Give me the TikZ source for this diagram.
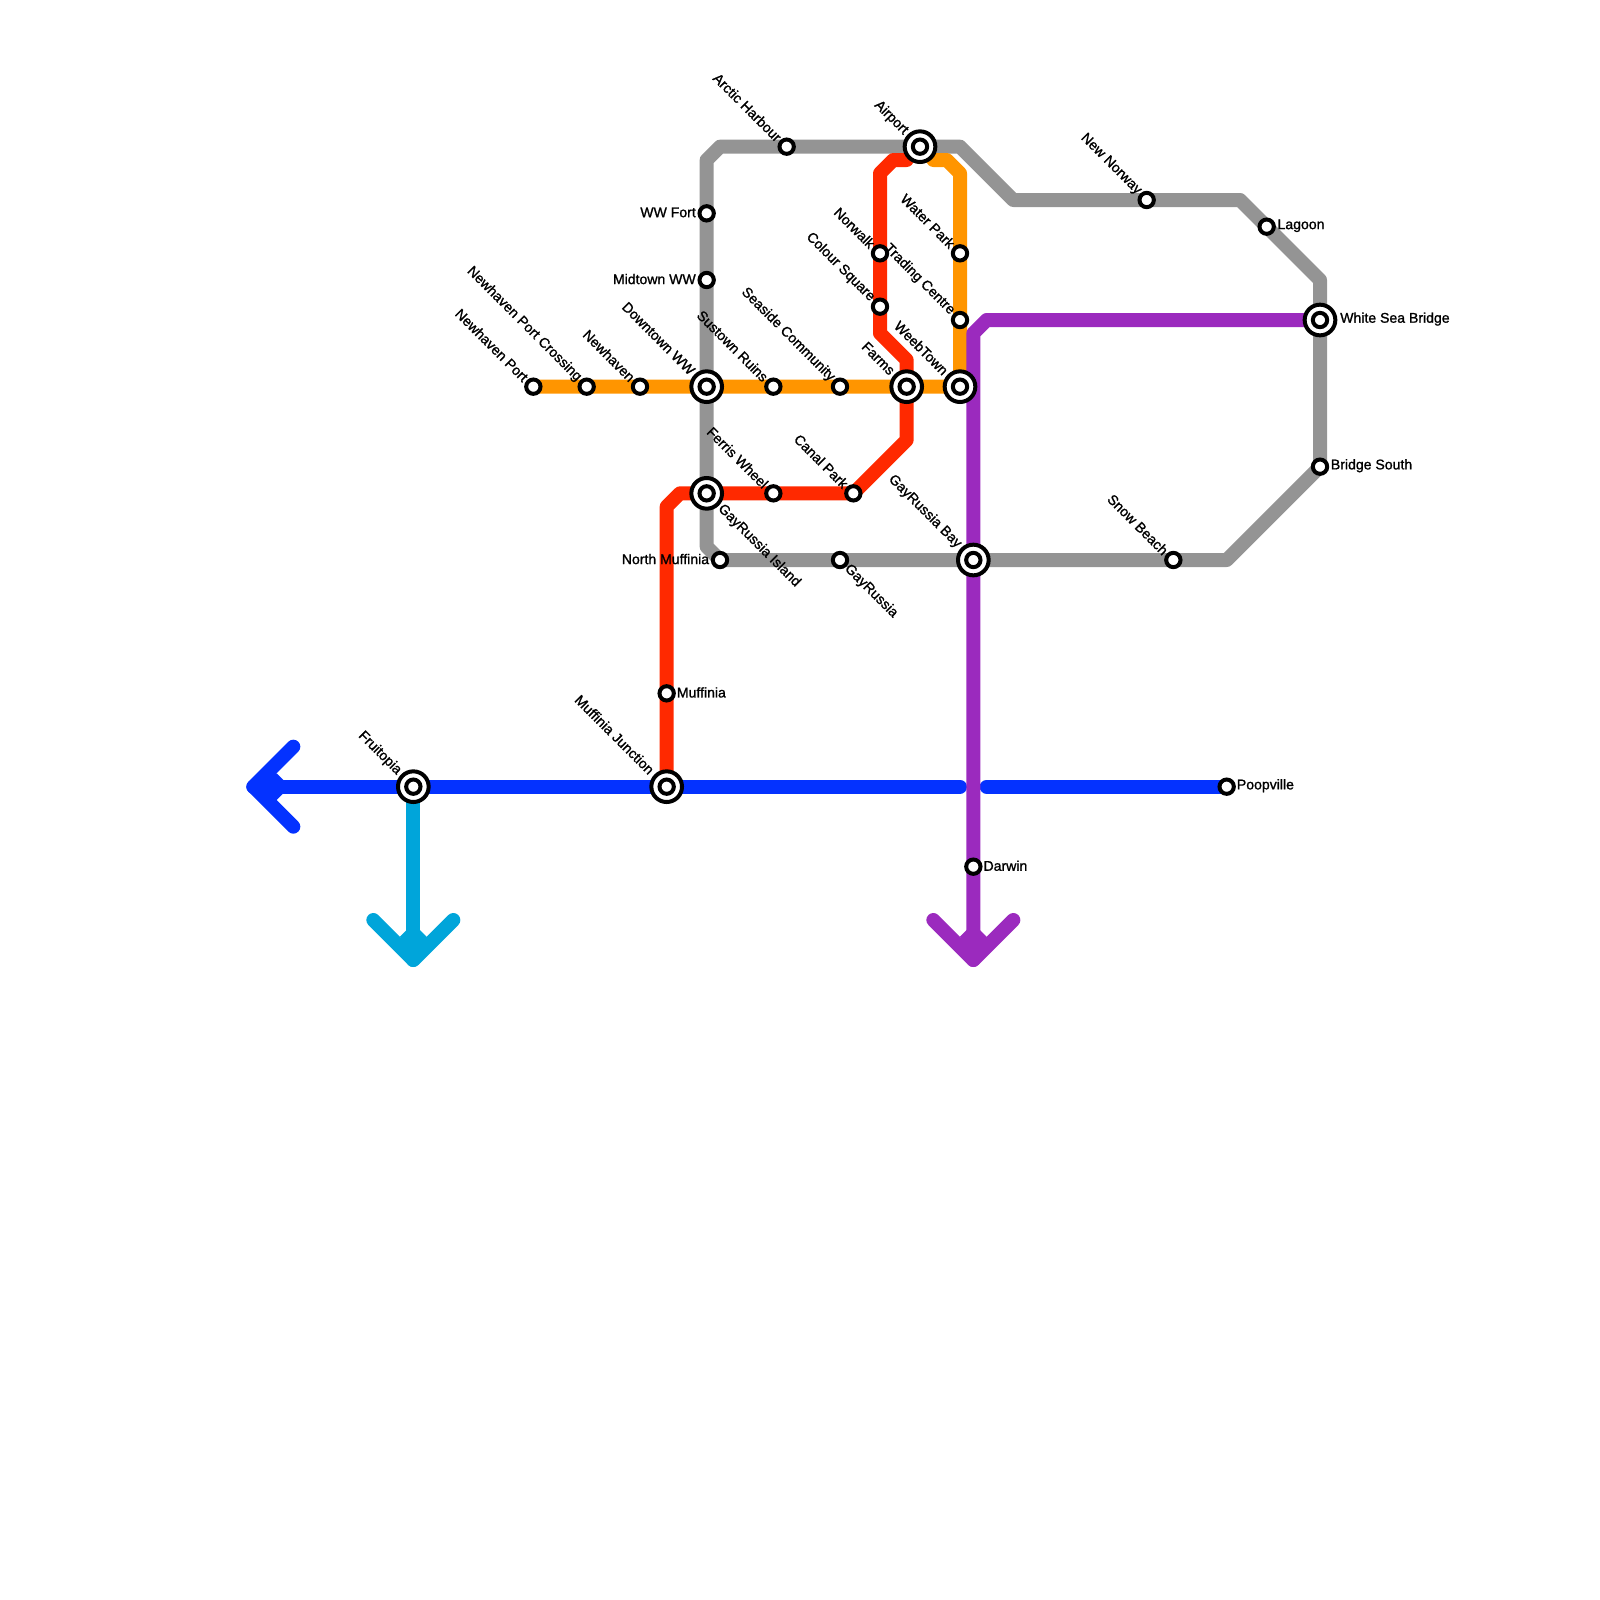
\documentclass[tikz,border=0pt]{standalone}
\usepackage{fontspec}
\setmainfont{Liberation Sans}
\newfontfamily\tagfont[FakeBold=1.2]{Liberation Sans}
\usetikzlibrary{calc,backgrounds}
\definecolor{mygray}{RGB}{148,148,148}
\definecolor{myorange}{RGB}{255,149,0}
\definecolor{myred}{RGB}{255,41,0}
\definecolor{myblue}{RGB}{4,50,255}
\definecolor{mycyan}{RGB}{0,165,218}
\definecolor{mypurple}{RGB}{155,42,190}
\tikzset{
  track/.style={line width=0.42cm, line join=round, line cap=round},
  stn/.style={draw, circle, fill=white, line width=0.12cm, minimum size=0.43cm, inner sep=0pt},
  hub/.style={draw, circle, fill=white, line width=0.12cm, minimum size=0.92cm, inner sep=0pt},
  tag/.style={inner sep=0pt, font=\tagfont\fontsize{12}{14}\selectfont},
  tagul/.style={tag, rotate=-45, anchor=east},
  tagdr/.style={tag, rotate=-45, anchor=west},
  tagl/.style={tag, anchor=east},
  tagr/.style={tag, anchor=west},
}

\begin{document}
\begin{tikzpicture}[x=0.4cm, y=-0.4cm]
  \useasboundingbox (0,0) rectangle (120,120);

  % Stations
  \node[stn] (nhport) at (40,29) {};
  \node[stn] (nhcross) at (44,29) {};
  \node[stn] (newhaven) at (48,29) {};
  \node[hub] (downtown-ring) at (53,29) {};
  \node[stn] (downtown) at (53,29) {};
  \node[stn] (sustown) at (58,29) {};
  \node[stn] (seaside) at (63,29) {};
  \node[hub] (farms-ring) at (68,29) {};
  \node[stn] (farms) at (68,29) {};
  \node[hub] (weeb-ring) at (72,29) {};
  \node[stn] (weeb) at (72,29) {};
  \node[stn] (wwfort) at (53,16) {};
  \node[stn] (midtown) at (53,21) {};
  \node[stn] (arctic) at (59,11) {};
  \node[hub] (airport-ring) at (69,11) {};
  \node[stn] (airport) at (69,11) {};
  \node[stn] (norwalk) at (66,19) {};
  \node[stn] (colour) at (66,23) {};
  \node[stn] (water) at (72,19) {};
  \node[stn] (trading) at (72,24) {};
  \node[stn] (norway) at (86,15) {};
  \node[stn] (lagoon) at (95,17) {};
  \node[hub] (whitesea-ring) at (99,24) {};
  \node[stn] (whitesea) at (99,24) {};
  \node[stn] (bridge) at (99,35) {};
  \node[stn] (snow) at (88,42) {};
  \node[hub] (bay-ring) at (73,42) {};
  \node[stn] (bay) at (73,42) {};
  \node[stn] (gayrussia) at (63,42) {};
  \node[stn] (northmuff) at (54,42) {};
  \node[hub] (island-ring) at (53,37) {};
  \node[stn] (island) at (53,37) {};
  \node[stn] (ferris) at (58,37) {};
  \node[stn] (canal) at (64,37) {};
  \node[stn] (muffinia) at (50,52) {};
  \node[hub] (junction-ring) at (50,59) {};
  \node[stn] (junction) at (50,59) {};
  \node[hub] (fruitopia-ring) at (31,59) {};
  \node[stn] (fruitopia) at (31,59) {};
  \node[stn] (poopville) at (92,59) {};
  \node[stn] (darwin) at (73,65) {};

  % Bends and line ends
  \coordinate (g1) at (53,41);
  \coordinate (g2) at (53,12);
  \coordinate (g3) at (54,11);
  \coordinate (g4) at (72,11);
  \coordinate (g5) at (76,15);
  \coordinate (g6) at (93,15);
  \coordinate (g7) at (99,21);
  \coordinate (g8) at (92,42);
  \coordinate (o1) at (72,13);
  \coordinate (o2) at (71,12);
  \coordinate (o3) at (70,12);
  \coordinate (r1) at (50,38);
  \coordinate (r2) at (51,37);
  \coordinate (r3) at (68,33);
  \coordinate (r4) at (68,27);
  \coordinate (r5) at (66,25);
  \coordinate (r6) at (66,13);
  \coordinate (r7) at (67,12);
  \coordinate (r8) at (68,12);
  \coordinate (p1) at (74,24);
  \coordinate (p2) at (73,25);
  \coordinate (ptip) at (73,72);
  \coordinate (parml) at (70,69);
  \coordinate (parmr) at (76,69);
  \coordinate (ctip) at (31,72);
  \coordinate (carml) at (28,69);
  \coordinate (carmr) at (34,69);
  \coordinate (btip) at (19,59);
  \coordinate (barmu) at (22,56);
  \coordinate (barmd) at (22,62);
  \coordinate (bgap1) at (72,59);
  \coordinate (bgap2) at (74,59);

  \begin{scope}[on background layer]
    \draw[track, mygray] (northmuff.center) -- (g1) -- (g2) -- (g3) -- (g4) -- (g5) -- (g6) -- (g7) -- (bridge.center) -- (g8) -- cycle;
    \draw[track, myblue] (btip) -- (bgap1);
    \draw[track, myblue] (bgap2) -- (poopville.center);
    \draw[track, myblue] (barmu) -- (btip) -- (barmd);
    \fill[myblue] (btip) -- (20.75,58) -- (21.75,59) -- (20.75,60) -- cycle;
    \draw[track, mycyan] (fruitopia.center) -- (ctip);
    \draw[track, mycyan] (carml) -- (ctip) -- (carmr);
    \fill[mycyan] (ctip) -- (30,70.25) -- (31,69.25) -- (32,70.25) -- cycle;
    \draw[track, myorange] (nhport.center) -- (weeb.center) -- (o1) -- (o2) -- (o3);
    \draw[track, myred] (junction.center) -- (r1) -- (r2) -- (canal.center) -- (r3) -- (r4) -- (r5) -- (r6) -- (r7) -- (r8);
    \draw[track, mypurple] (whitesea.center) -- (p1) -- (p2) -- (ptip);
    \draw[track, mypurple] (parml) -- (ptip) -- (parmr);
    \fill[mypurple] (ptip) -- (72,70.25) -- (73,69.25) -- (74,70.25) -- cycle;
  \end{scope}

  % Labels
  \node[tagul] (nhport-tag) at ([shift={(-0.55,-0.55)}]nhport.center) {Newhaven Port};
  \node[tagul] (nhcross-tag) at ([shift={(-0.55,-0.55)}]nhcross.center) {Newhaven Port Crossing};
  \node[tagul] (newhaven-tag) at ([shift={(-0.55,-0.55)}]newhaven.center) {Newhaven};
  \node[tagul] (downtown-tag) at ([shift={(-1.05,-1.05)}]downtown.center) {Downtown WW};
  \node[tagul] (sustown-tag) at ([shift={(-0.55,-0.55)}]sustown.center) {Sustown Ruins};
  \node[tagul] (seaside-tag) at ([shift={(-0.55,-0.55)}]seaside.center) {Seaside Community};
  \node[tagul] (farms-tag) at ([shift={(-1.05,-1.05)}]farms.center) {Farms};
  \node[tagul] (weeb-tag) at ([shift={(-1.05,-1.05)}]weeb.center) {WeebTown};
  \node[tagul] (arctic-tag) at ([shift={(-0.55,-0.55)}]arctic.center) {Arctic Harbour};
  \node[tagul] (airport-tag) at ([shift={(-1.05,-1.05)}]airport.center) {Airport};
  \node[tagul] (norwalk-tag) at ([shift={(-0.55,-0.55)}]norwalk.center) {Norwalk};
  \node[tagul] (colour-tag) at ([shift={(-0.55,-0.55)}]colour.center) {Colour Square};
  \node[tagul] (water-tag) at ([shift={(-0.55,-0.55)}]water.center) {Water Park};
  \node[tagul] (trading-tag) at ([shift={(-0.55,-0.55)}]trading.center) {Trading Centre};
  \node[tagul] (norway-tag) at ([shift={(-0.55,-0.55)}]norway.center) {New Norway};
  \node[tagul] (snow-tag) at ([shift={(-0.55,-0.55)}]snow.center) {Snow Beach};
  \node[tagul] (bay-tag) at ([shift={(-1.05,-1.05)}]bay.center) {GayRussia Bay};
  \node[tagul] (ferris-tag) at ([shift={(-0.55,-0.55)}]ferris.center) {Ferris Wheel};
  \node[tagul] (canal-tag) at ([shift={(-0.55,-0.55)}]canal.center) {Canal Park};
  \node[tagul] (junction-tag) at ([shift={(-1.1,-1.1)}]junction.center) {Muffinia Junction};
  \node[tagul] (fruitopia-tag) at ([shift={(-1.05,-1.05)}]fruitopia.center) {Fruitopia};
  \node[tagdr] (island-tag) at ([shift={(1,1)}]island.center) {GayRussia Island};
  \node[tagdr] (gayrussia-tag) at ([shift={(0.5,0.5)}]gayrussia.center) {GayRussia};
  \node[tagl] (wwfort-tag) at ([shift={(-0.8,-0.07)}]wwfort.center) {WW Fort};
  \node[tagl] (midtown-tag) at ([shift={(-0.8,-0.07)}]midtown.center) {Midtown WW};
  \node[tagl] (northmuff-tag) at ([shift={(-0.8,-0.07)}]northmuff.center) {North Muffinia};
  \node[tagr] (lagoon-tag) at ([shift={(0.8,-0.07)}]lagoon.center) {Lagoon};
  \node[tagr] (whitesea-tag) at ([shift={(1.5,-0.07)}]whitesea.center) {White Sea Bridge};
  \node[tagr] (bridge-tag) at ([shift={(0.8,-0.07)}]bridge.center) {Bridge South};
  \node[tagr] (muffinia-tag) at ([shift={(0.75,-0.07)}]muffinia.center) {Muffinia};
  \node[tagr] (poopville-tag) at ([shift={(0.75,-0.07)}]poopville.center) {Poopville};
  \node[tagr] (darwin-tag) at ([shift={(0.75,-0.07)}]darwin.center) {Darwin};
\end{tikzpicture}
\end{document}
